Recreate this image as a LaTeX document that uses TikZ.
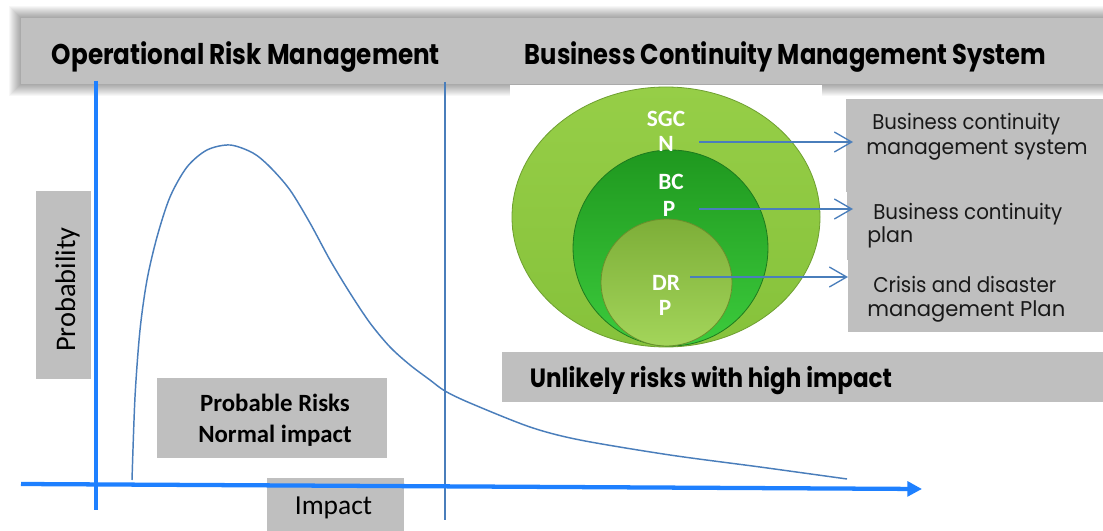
\documentclass[tikz,border=0pt]{standalone}
\usepackage{fontspec}
\usepackage{graphicx}
\setmainfont{Carlito}
\newfontfamily\gothic{Poppins}
\usetikzlibrary{arrows.meta}
\definecolor{boxgray}{HTML}{BFBFBF}
\definecolor{bargray}{HTML}{C0C0C0}
\definecolor{axisblue}{HTML}{1E80FF}
\definecolor{lineblue}{HTML}{4A7EBB}
\definecolor{goT}{HTML}{96CE47}
\definecolor{goB}{HTML}{86C23B}
\definecolor{goE}{HTML}{6E9F30}
\definecolor{gmT}{HTML}{1F981F}
\definecolor{gmB}{HTML}{3CCB3C}
\definecolor{gmE}{HTML}{1E7A1E}
\definecolor{giT}{HTML}{7DAE38}
\definecolor{giB}{HTML}{A3D55A}
\definecolor{giE}{HTML}{6A8F2C}
\newcommand\fitw[2]{\resizebox{#1}{\height}{#2}}
\tikzset{
  hdr/.style={font=\gothic\bfseries\fontsize{21.4}{24}\selectfont, inner sep=0pt, anchor=base},
  rtxt/.style={font=\gothic\fontsize{16}{19}\selectfont, inner sep=0pt, anchor=base west, text=black!90},
  wlab/.style={font=\bfseries\fontsize{17.5}{20}\selectfont, text=white, inner sep=0pt, anchor=base},
  ctxt/.style={inner sep=0pt, anchor=base},
  conn/.style={draw=lineblue, line width=1pt, -{Straight Barb[length=13pt,width=15pt,line width=1pt]}},
  axis/.style={draw=axisblue, line width=3.2pt},
  thin/.style={draw=lineblue, line width=1pt},
}
\begin{document}
\begin{tikzpicture}[x=0.75pt,y=-0.75pt]
\useasboundingbox (0,0) rectangle (1103,531);
\fill[white] (0,0) rectangle (1103,531);
% header shadow and bar
\foreach \i in {1,...,12}{
  \fill[black,opacity=0.03] (21-\i,18-\i) rectangle (1115,84+\i);
}
\fill[bargray] (21,18) rectangle (1103,84);
\node[hdr] (orm) at (246,65) {\fitw{291pt}{Operational Risk Management}};
\node[hdr] (bcms) at (785.5,65) {\fitw{391pt}{Business Continuity Management System}};
% white patch behind circles
\fill[white] (510,85) rectangle (822,100);
% circles
\shade[top color=goT, bottom color=goB, draw=goE, line width=0.6pt] (666,217) ellipse [x radius=115.5pt, y radius=97.5pt];
\shade[top color=gmT, bottom color=gmB, draw=gmE, line width=0.6pt] (670.5,248) ellipse [x radius=73.1pt, y radius=73.5pt];
\shade[top color=giT, bottom color=giB, draw=giE, line width=0.6pt] (666.5,282.5) ellipse [x radius=49.1pt, y radius=47.6pt];
\node[wlab] (sgc1) at (666,127) {SGC};
\node[wlab] (sgc2) at (666,152) {N};
\node[wlab] (bcp1) at (671,190) {BC};
\node[wlab] (bcp2) at (669,216) {P};
\node[wlab] (drp1) at (666,290) {DR};
\node[wlab] (drp2) at (665,315) {P};
% right grey boxes
\fill[boxgray] (846,99) rectangle (1103,192);
\fill[boxgray] (847,192) rectangle (1103,260);
\fill[boxgray] (848,260) rectangle (1103,332);
\node[rtxt] (r1) at (872,130) {\fitw{141pt}{Business continuity}};
\node[rtxt] (r2) at (866,155) {\fitw{166pt}{management system}};
\node[rtxt] (r3) at (873,220) {\fitw{141.75pt}{Business continuity}};
\node[rtxt] (r4) at (867,243) {\fitw{34.5pt}{plan}};
\node[rtxt] (r5) at (873,292) {\fitw{137.25pt}{Crisis and disaster}};
\node[rtxt] (r6) at (867,316) {\fitw{148.5pt}{management Plan}};
% connectors
\coordinate (a1) at (699,142); \coordinate (b1) at (853,142);
\coordinate (a2) at (699,209); \coordinate (b2) at (853,209);
\coordinate (a3) at (690,277); \coordinate (b3) at (848,277);
\draw[conn] (a1) -- (b1);
\draw[conn] (a2) -- (b2);
\draw[conn] (a3) -- (b3);
% unlikely box
\fill[boxgray] (502,352) rectangle (1103,402);
\node[hdr, font=\gothic\bfseries\fontsize{19.8}{22}\selectfont] (unl) at (711,387) {\fitw{271.5pt}{Unlikely risks with high impact}};
% left boxes
\fill[boxgray] (36,191) rectangle (91,379);
\node[ctxt, rotate=90, font=\fontsize{21.3}{24}\selectfont] (prob) at (75,289.5) {Probability};
\fill[boxgray] (157,378) rectangle (387,458);
\node[ctxt, font=\bfseries\fontsize{18.6}{22}\selectfont] (pr1) at (275,411) {Probable Risks};
\node[ctxt, font=\bfseries\fontsize{18.6}{22}\selectfont] (pr2) at (275,442) {Normal impact};
\fill[boxgray] (267,478) rectangle (404,531);
\node[ctxt, font=\fontsize{20.6}{24}\selectfont] (imp) at (333.5,514) {Impact};
% thin separator
\coordinate (s1) at (445,82); \coordinate (s2) at (445,520);
\draw[thin] (s1) -- (s2);
% axes
\coordinate (ya) at (96,81); \coordinate (yb) at (96,510);
\draw[axis] (ya) -- (yb);
\coordinate (xa) at (21,484); \coordinate (xb) at (922,489);
\draw[axis, -{Triangle[length=11pt,width=11pt]}] (xa) -- (xb);
% curve
\draw[lineblue, line width=1.1pt] plot[smooth, tension=0.5] coordinates {
 (132,480) (135,397) (140,330) (147,280) (157,237) (170,197) (187,167) (207,150) (230,145) (253,153) (270,167) (290,190) (310,223) (330,260) (350,293) (370,323) (390,347) (410,365) (430,380) (445,391) (470,403) (530,427) (580,440) (670,455) (760,467) (847,479)};
\end{tikzpicture}
\end{document}
